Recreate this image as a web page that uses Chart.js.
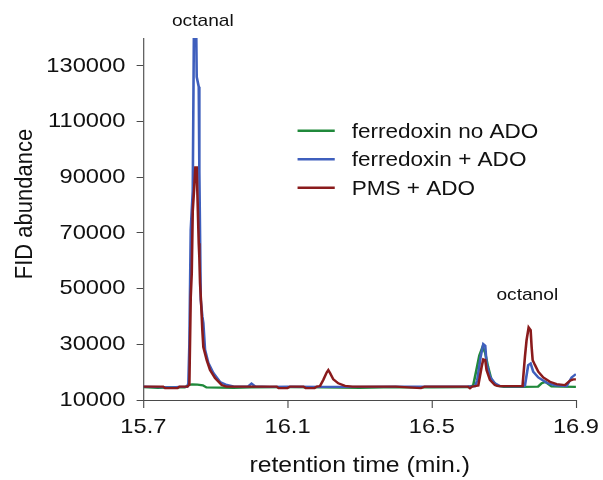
<!DOCTYPE html>
<html>
<head>
<meta charset="utf-8">
<script src="https://cdn.jsdelivr.net/npm/chart.js@4"></script>
<style>
  html, body { margin: 0; padding: 0; background: #fff; overflow: hidden; }
</style>
</head>
<body>
<canvas id="chart" width="535" height="480" style="width:603px;height:480px"></canvas>
<script>
const seriesNames = ['ferredoxin no ADO', 'ferredoxin + ADO', 'PMS + ADO'];
const seriesColors = ['#20893b', '#3f5fbd', '#8a1b1c'];

const xTicks = [15.7, 16.1, 16.5, 16.9];
const yTicks = [10000, 30000, 50000, 70000, 90000, 110000, 130000];

const greenTime = [15.70, 15.74, 15.78, 15.815, 15.825, 15.835, 15.85, 15.865, 15.875, 15.95, 16.00, 16.10,
  16.20, 16.30, 16.40, 16.50, 16.60, 16.615, 16.6226, 16.632, 16.641, 16.648, 16.656, 16.665, 16.68, 16.70,
  16.75, 16.795, 16.805, 16.815, 16.832, 16.86, 16.90];
const greenValue = [14600, 14400, 14500, 14500, 15400, 15600, 15500, 15300, 14500, 14400, 14500, 14600,
  14500, 14400, 14600, 14500, 14600, 15200, 20000, 26000, 29100, 27000, 22000, 17500, 15200, 14700,
  14700, 14800, 16000, 16500, 14900, 14800, 14700];

const blueTime = [15.70, 15.75, 15.78, 15.80, 15.822, 15.8248, 15.8276, 15.8314, 15.837, 15.8406, 15.846,
  15.848, 15.8536, 15.8553, 15.8592, 15.8636, 15.8664, 15.8711, 15.8803, 15.8941, 15.9127, 15.9313, 15.95,
  15.99, 16.00, 16.01, 16.05, 16.10, 16.20, 16.30, 16.40, 16.50, 16.60, 16.62, 16.626, 16.6356, 16.643,
  16.6484, 16.652, 16.6615, 16.675, 16.689, 16.72, 16.755, 16.7585, 16.7676, 16.7743, 16.7815, 16.7955,
  16.8187, 16.8417, 16.8742, 16.888, 16.90];
const blueValue = [14800, 14600, 14500, 14700, 14800, 16000, 30000, 71000, 85000, 150000, 150000,
  126000, 122500, 92000, 46000, 40000, 37600, 28000, 23300, 19700, 16500, 15400, 14900,
  14800, 15900, 14900, 14700, 14800, 14700, 14700, 14800, 14800, 14900, 15000, 17000, 25500, 30070,
  29500, 23150, 18350, 16000, 15000, 14900, 14900, 15200, 22540, 23150, 20150, 18130,
  16200, 15270, 15000, 18130, 19300];

const redTime = [15.70, 15.755, 15.76, 15.795, 15.80, 15.822, 15.8276, 15.8314, 15.8342, 15.837, 15.8406,
  15.8442, 15.848, 15.8497, 15.8536, 15.8553, 15.8572, 15.8608, 15.8636, 15.8664, 15.8758, 15.885, 15.8988,
  15.9174, 15.93, 16.00, 16.07, 16.075, 16.10, 16.107, 16.144, 16.15, 16.175, 16.181, 16.19, 16.199,
  16.2086, 16.213, 16.2178, 16.227, 16.2408, 16.2593, 16.28, 16.40, 16.47, 16.48, 16.60, 16.606, 16.612,
  16.629, 16.6384, 16.643, 16.6484, 16.652, 16.6615, 16.675, 16.6845, 16.75, 16.752, 16.7585, 16.763,
  16.7688, 16.7743, 16.777, 16.7799, 16.7863, 16.7955, 16.8093, 16.8278, 16.8464, 16.8694, 16.8833,
  16.8925, 16.90];
const redValue = [14800, 14800, 14300, 14300, 14800, 14800, 15500, 47000, 55500, 78000, 85300,
  93500, 93500, 85000, 66300, 61300, 52000, 43300, 35100, 29000, 24300, 20750, 17900,
  15400, 14800, 14800, 14800, 14300, 14300, 14800, 14800, 14300, 14300, 14800, 15000, 17170,
  19900, 20750, 19700, 17400, 16000, 15100, 14800, 14800, 14300, 14800, 14800, 14200, 14800,
  15200, 21950, 24590, 24370, 20750, 17170, 15380, 15000, 15000, 15400, 25520, 31500,
  36050, 35100, 29100, 24340, 22540, 20150, 18130, 16560, 15730, 15380, 16930,
  17420, 17420];

const peakNames = ['octanal', 'octanol'];
const peakTime = [15.865, 16.765];
const peakLabelValue = [145900, 47600];

const FONT = "'Liberation Sans', Arial, sans-serif";
const TEXT = '#111';
// the reference is stretched sideways: lay out at 535 wide, paint at 603
const STRETCH = 603 / 535;

function points(times, values) {
  return times.map((t, i) => ({ x: t, y: values[i] }));
}

const series = [
  points(greenTime, greenValue),
  points(blueTime, blueValue),
  points(redTime, redValue)
];

const stretch = {
  id: 'stretch',
  beforeDraw(chart) {
    chart.ctx.setTransform(STRETCH, 0, 0, 1, 0, 0);
  }
};

// legend, axis title and peak names drawn on top of the chart
const extras = {
  id: 'extras',
  afterDraw(chart) {
    const ctx = chart.ctx;
    const xs = chart.scales.x, ys = chart.scales.y;
    ctx.save();
    ctx.fillStyle = TEXT;

    ctx.font = '20px ' + FONT;
    ctx.textAlign = 'left';
    ctx.textBaseline = 'middle';
    chart.data.datasets.forEach((ds, i) => {
      const y = 130.7 + i * 28.5;
      ctx.strokeStyle = ds.borderColor;
      ctx.lineWidth = 2.6;
      ctx.beginPath();
      ctx.moveTo(264, y);
      ctx.lineTo(297, y);
      ctx.stroke();
      ctx.fillText(ds.label, 312, y + 1.5);
    });

    ctx.font = '17px ' + FONT;
    ctx.textAlign = 'center';
    peakNames.forEach((name, i) => {
      ctx.fillText(name, xs.getPixelForValue(peakTime[i]), ys.getPixelForValue(peakLabelValue[i]));
    });

    ctx.translate(22, 204);
    ctx.rotate(-Math.PI / 2);
    ctx.font = '22px ' + FONT;
    ctx.fillText('FID abundance', 0, 0);
    ctx.restore();
  }
};

const canvas = document.getElementById('chart');
const chart = new Chart(canvas, {
  type: 'line',
  data: {
    datasets: seriesNames.map((name, i) => ({
      label: name,
      data: series[i],
      borderColor: seriesColors[i],
      borderWidth: 2.3,
      pointRadius: 0,
      tension: 0,
      fill: false,
      order: 2 - i
    }))
  },
  options: {
    responsive: false,
    animation: false,
    events: [],
    devicePixelRatio: 1,
    layout: { padding: { left: 0, top: 38, right: 24, bottom: 0 } },
    plugins: { legend: { display: false }, tooltip: { enabled: false } },
    scales: {
      x: {
        type: 'linear',
        min: 15.7,
        max: 16.9,
        afterBuildTicks: s => { s.ticks = xTicks.map(v => ({ value: v })); },
        afterFit: s => {
          s.height = 80;
          s.paddingLeft = 0;
          s.paddingRight = 0;
        },
        ticks: {
          color: TEXT,
          font: { family: FONT, size: 21 },
          padding: 7,
          maxRotation: 0,
          callback: v => v.toFixed(1)
        },
        grid: { display: true, drawOnChartArea: false, drawTicks: true, tickLength: 8, color: '#4a4a4a' },
        border: { display: true, color: '#4a4a4a', width: 1 },
        title: {
          display: true,
          text: 'retention time (min.)',
          color: TEXT,
          font: { family: FONT, size: 22 },
          padding: { top: 4, bottom: 1 }
        }
      },
      y: {
        type: 'linear',
        min: 10000,
        max: 140000,
        afterBuildTicks: s => { s.ticks = yTicks.map(v => ({ value: v })); },
        afterFit: s => { s.width = 127.2; },
        ticks: {
          color: TEXT,
          font: { family: FONT, size: 21 },
          padding: 10,
          callback: v => String(v)
        },
        grid: { display: true, drawOnChartArea: false, drawTicks: true, tickLength: 6, color: '#4a4a4a' },
        border: { display: true, color: '#4a4a4a', width: 1 }
      }
    }
  },
  plugins: [stretch, extras]
});

// widen the bitmap after layout, then paint again through the stretch transform
canvas.width = 603;
chart.draw();
</script>
</body>
</html>
